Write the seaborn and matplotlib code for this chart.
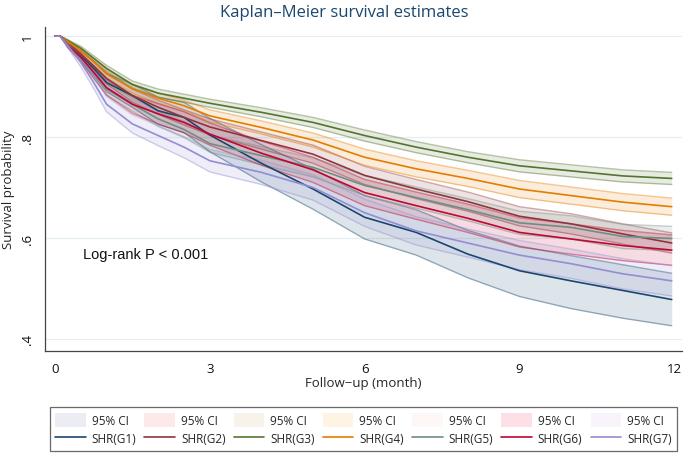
import pandas as pd
import matplotlib
matplotlib.use("Agg")
import matplotlib.pyplot as plt
from matplotlib.patches import Patch
from matplotlib.lines import Line2D
import seaborn as sns

months = [0, 0.1, 0.25, 0.5, 0.75, 1, 1.5, 2, 2.5, 3, 4, 5, 6, 7, 8, 9, 10, 11, 11.95]

groups = ["SHR(G1)", "SHR(G2)", "SHR(G3)", "SHR(G4)", "SHR(G5)", "SHR(G6)", "SHR(G7)"]

# Kaplan-Meier estimates per group
surv_g1 = [1, 1, 0.984, 0.961, 0.936, 0.908, 0.882, 0.852, 0.839, 0.804, 0.748, 0.697, 0.641, 0.611, 0.568, 0.535, 0.515, 0.496, 0.478]
surv_g2 = [1, 1, 0.986, 0.964, 0.941, 0.916, 0.882, 0.859, 0.839, 0.820, 0.793, 0.766, 0.724, 0.697, 0.672, 0.643, 0.628, 0.608, 0.590]
surv_g3 = [1, 1, 0.991, 0.976, 0.956, 0.936, 0.904, 0.887, 0.877, 0.867, 0.849, 0.829, 0.803, 0.780, 0.760, 0.743, 0.733, 0.723, 0.718]
surv_g4 = [1, 1, 0.989, 0.971, 0.949, 0.925, 0.896, 0.877, 0.862, 0.842, 0.819, 0.794, 0.760, 0.737, 0.718, 0.697, 0.684, 0.671, 0.662]
surv_g5 = [1, 1, 0.984, 0.958, 0.928, 0.895, 0.865, 0.836, 0.815, 0.787, 0.763, 0.740, 0.704, 0.680, 0.656, 0.630, 0.621, 0.603, 0.599]
surv_g6 = [1, 1, 0.982, 0.958, 0.928, 0.898, 0.865, 0.846, 0.829, 0.806, 0.768, 0.735, 0.690, 0.664, 0.639, 0.611, 0.598, 0.585, 0.576]
surv_g7 = [1, 1, 0.981, 0.948, 0.908, 0.865, 0.826, 0.803, 0.780, 0.753, 0.730, 0.700, 0.650, 0.614, 0.590, 0.566, 0.549, 0.529, 0.515]

# 95% CI bounds
lo_g1 = [1, 1, 0.978, 0.951, 0.922, 0.890, 0.859, 0.825, 0.809, 0.771, 0.711, 0.657, 0.598, 0.566, 0.521, 0.484, 0.460, 0.441, 0.426]
hi_g1 = [1, 1, 0.990, 0.971, 0.950, 0.926, 0.905, 0.879, 0.869, 0.837, 0.785, 0.737, 0.684, 0.656, 0.615, 0.584, 0.565, 0.547, 0.530]
lo_g2 = [1, 1, 0.982, 0.957, 0.932, 0.905, 0.869, 0.845, 0.824, 0.804, 0.776, 0.748, 0.706, 0.678, 0.653, 0.624, 0.608, 0.588, 0.570]
hi_g2 = [1, 1, 0.990, 0.971, 0.950, 0.927, 0.895, 0.873, 0.854, 0.836, 0.810, 0.784, 0.742, 0.716, 0.691, 0.662, 0.648, 0.628, 0.610]
lo_g3 = [1, 1, 0.989, 0.972, 0.951, 0.930, 0.897, 0.879, 0.869, 0.859, 0.840, 0.819, 0.792, 0.769, 0.749, 0.731, 0.721, 0.711, 0.706]
hi_g3 = [1, 1, 0.993, 0.980, 0.961, 0.942, 0.911, 0.895, 0.885, 0.875, 0.858, 0.839, 0.814, 0.791, 0.771, 0.755, 0.745, 0.735, 0.730]
lo_g4 = [1, 1, 0.986, 0.966, 0.942, 0.917, 0.887, 0.867, 0.851, 0.830, 0.806, 0.780, 0.744, 0.721, 0.702, 0.680, 0.667, 0.654, 0.645]
hi_g4 = [1, 1, 0.992, 0.976, 0.956, 0.933, 0.905, 0.887, 0.873, 0.854, 0.832, 0.808, 0.776, 0.753, 0.734, 0.714, 0.701, 0.688, 0.679]
lo_g5 = [1, 1, 0.980, 0.951, 0.918, 0.883, 0.851, 0.821, 0.799, 0.770, 0.745, 0.721, 0.684, 0.659, 0.634, 0.607, 0.598, 0.579, 0.575]
hi_g5 = [1, 1, 0.988, 0.965, 0.938, 0.907, 0.879, 0.851, 0.831, 0.804, 0.781, 0.759, 0.724, 0.701, 0.678, 0.653, 0.644, 0.627, 0.623]
lo_g6 = [1, 1, 0.977, 0.949, 0.916, 0.883, 0.847, 0.826, 0.808, 0.784, 0.744, 0.710, 0.664, 0.637, 0.611, 0.582, 0.568, 0.555, 0.546]
hi_g6 = [1, 1, 0.987, 0.967, 0.940, 0.913, 0.883, 0.866, 0.850, 0.828, 0.792, 0.760, 0.716, 0.691, 0.667, 0.640, 0.628, 0.615, 0.606]
lo_g7 = [1, 1, 0.976, 0.939, 0.896, 0.850, 0.808, 0.783, 0.759, 0.731, 0.706, 0.675, 0.623, 0.586, 0.562, 0.537, 0.520, 0.499, 0.485]
hi_g7 = [1, 1, 0.986, 0.957, 0.920, 0.880, 0.844, 0.823, 0.801, 0.775, 0.754, 0.725, 0.677, 0.642, 0.618, 0.595, 0.578, 0.559, 0.545]

surv = [surv_g1, surv_g2, surv_g3, surv_g4, surv_g5, surv_g6, surv_g7]
lows = [lo_g1, lo_g2, lo_g3, lo_g4, lo_g5, lo_g6, lo_g7]
highs = [hi_g1, hi_g2, hi_g3, hi_g4, hi_g5, hi_g6, hi_g7]

# Stata s2color-like palette
line_colors = ["#1a476f", "#90353b", "#55752f", "#e37e00", "#6e8e84", "#c10534", "#938dd2"]
ci_legend_colors = ["#ececf4", "#fde9e9", "#f7f3ea", "#fef4e3", "#fdf7f6", "#fde0e5", "#f9f4fc"]

rows = []
for g, s in zip(groups, surv):
    for t, v in zip(months, s):
        rows.append({"month": t, "surv": v, "group": g})
df = pd.DataFrame(rows)

sns.set_style("white")
plt.rcParams["font.family"] = ["Open Sans", "DejaVu Sans"]

fig = plt.figure(figsize=(6.85, 4.6), dpi=100)
ax = fig.add_axes([0.0657, 0.2348, 0.930, 0.7042])

# light horizontal grid
for yv in [0.4, 0.6, 0.8, 1.0]:
    ax.axhline(yv, color="#e6eff0", lw=0.9, zorder=0)

# confidence bands
for lo, hi, c in zip(lows, highs, line_colors):
    ax.fill_between(months, lo, hi, color=c, alpha=0.14, lw=0, zorder=1)
    ax.plot(months, lo, color=c, alpha=0.42, lw=1.0, zorder=2)
    ax.plot(months, hi, color=c, alpha=0.42, lw=1.0, zorder=2)

sns.lineplot(data=df, x="month", y="surv", hue="group", palette=line_colors,
             estimator=None, lw=1.2, legend=False, ax=ax, zorder=3)

ax.set_xlim(-0.194, 12.15)
ax.set_ylim(0.376, 1.018)
ax.set_xticks([0, 3, 6, 9, 12])
ax.set_yticks([0.4, 0.6, 0.8, 1.0])
ax.set_yticklabels([".4", ".6", ".8", "1"], rotation=90, va="center")
ax.tick_params(axis="both", direction="out", length=5, width=0.8, color="#444444",
               labelsize=9.5, labelcolor="#111111", pad=3)
for side in ["top", "right"]:
    ax.spines[side].set_visible(False)
for side in ["left", "bottom"]:
    ax.spines[side].set_color("#444444")
    ax.spines[side].set_linewidth(0.9)

ax.set_xlabel("Follow\u2212up (month)", fontsize=9.5, labelpad=1)
ax.set_ylabel("Survival probability", fontsize=9.5, labelpad=4)

fig.suptitle("Kaplan\u2013Meier survival estimates", x=0.502, y=0.99, fontsize=12,
             color="#1a476f", va="top")

ax.text(0.54, 0.568, "Log-rank P < 0.001", fontsize=10.5, family="Liberation Sans",
        va="center", ha="left", color="#111111")

handles, labels = [], []
for g, c, fc in zip(groups, line_colors, ci_legend_colors):
    handles.append(Patch(facecolor=fc, edgecolor="none"))
    labels.append("95% CI")
    handles.append(Line2D([0], [0], color=c, lw=1.2))
    labels.append(g)

leg = fig.legend(handles, labels, ncol=7, loc="center", mode="expand",
                 bbox_to_anchor=(0.064, 0.0065, 0.933, 0.117), fontsize=8.5,
                 frameon=True, fancybox=False, edgecolor="#444444",
                 handlelength=2.6, handleheight=1.5, handletextpad=0.5,
                 columnspacing=0.6, borderpad=0.45, labelspacing=0.35)
leg.get_frame().set_linewidth(0.9)

fig.savefig("out.png", dpi=100)
